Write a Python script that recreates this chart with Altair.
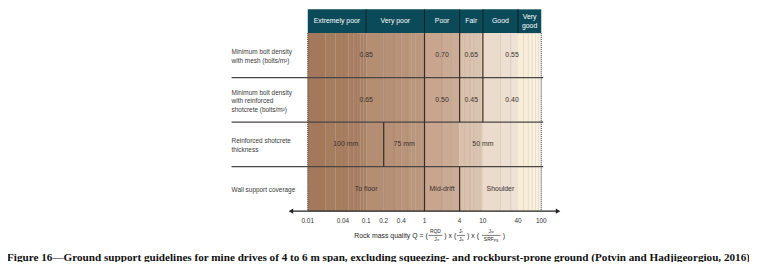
import altair as alt
import pandas as pd
import numpy as np

# ---------------- data ----------------
classes = ["Extremely poor", "Very poor", "Poor", "Fair", "Good", "Very\ngood"]
class_bounds = [0.01, 0.1, 1, 4, 10, 40, 100]

row_labels = [
    "Minimum bolt density\nwith mesh (bolts/m²)",
    "Minimum bolt density\nwith reinforced\nshotcrete (bolts/m²)",
    "Reinforced shotcrete\nthickness",
    "Wall support coverage",
]

mesh_bounds = [0.01, 1, 4, 10, 100]
mesh_values = ["0.85", "0.70", "0.65", "0.55"]
shot_bounds = [0.01, 1, 4, 10, 100]
shot_values = ["0.65", "0.50", "0.45", "0.40"]
thick_bounds = [0.01, 0.2, 1, 100]
thick_values = ["100 mm", "75 mm", "50 mm"]
wall_bounds = [0.01, 1, 4, 100]
wall_values = ["To floor", "Mid-drift", "Shoulder"]

tick_values = [0.01, 0.04, 0.1, 0.2, 0.4, 1, 4, 10, 40, 100]
tick_labels = ["0.01", "0.04", "0.1", "0.2", "0.4", "1", "4", "10", "40", "100"]

title_text = "Rock mass quality  Q = ("
caption = ("Figure 16\u2014Ground support guidelines for mine drives of 4 to 6 m span, "
           "excluding squeezing- and rockburst-prone ground (Potvin and Hadjigeorgiou, 2016)")

# log grid (minor ticks) for the shaded background
minor = sorted(set([round(k * 10.0 ** d, 6) for d in range(-2, 2) for k in range(1, 10)] + [100.0]))

ROW_PX = 45.0
OX = 4  # horizontal offset correction

# ---------------- tables ----------------
bg = pd.DataFrame({"q0": minor[:-1], "q1": minor[1:]})
bg["lq"] = np.log10(np.sqrt(bg.q0 * bg.q1))
bg["y0"] = 0
bg["y1"] = 4

stripe_df = pd.DataFrame({"q": [m for m in minor if m not in class_bounds]})
stripe_df["y0"] = 0
stripe_df["y1"] = 4

hdr = pd.DataFrame({"c0": class_bounds[:-1], "c1": class_bounds[1:], "name": classes})
hdr["mid"] = np.sqrt(hdr.c0 * hdr.c1)
hdr["y0"] = -0.5333
hdr["y1"] = 0
hdr["ym"] = [-0.2667 - (n.count("\n")) * 9 / 2 / ROW_PX for n in classes]

hsep = pd.DataFrame({"q": class_bounds[1:-1]})
hsep["y0"] = -0.5333
hsep["y1"] = 0

rows_b = [mesh_bounds, shot_bounds, thick_bounds, wall_bounds]
rows_v = [mesh_values, shot_values, thick_values, wall_values]
cells, divs = [], []
for r, (b, v) in enumerate(zip(rows_b, rows_v)):
    for i, lab in enumerate(v):
        cells.append({"row": r, "mid": float(np.sqrt(b[i] * b[i + 1])), "label": lab, "ym": r + 0.5})
    for x in b[1:-1]:
        divs.append({"q": x, "y0": r, "y1": r + 1})
cells = pd.DataFrame(cells)
divs = pd.DataFrame(divs)

rl = pd.DataFrame({"label": row_labels})
rl["ym"] = [i + 0.5 - s.count("\n") * 8.7 / 2 / ROW_PX + 0.03 for i, s in enumerate(row_labels)]
rlines = pd.DataFrame({"y": [1, 2, 3]})
edges = pd.DataFrame({"q": [0.01, 100], "y0": 0, "y1": 4})
ticks = pd.DataFrame({"q": tick_values, "label": tick_labels})

# ---------------- scales ----------------
X = alt.Scale(type="log", domain=[0.01, 100], range=[299 + OX, 535 + OX])
Y = alt.Scale(domain=[-0.5333, 5.1111], range=[0, 254])
C = alt.Scale(
    domain=[-2, -1.01, -0.99, -0.01, 0.01, 0.59, 0.61, 0.99, 1.01, 1.59, 1.61, 2],
    range=["#a37859", "#ab8165", "#b38c71", "#bc9980", "#c6a38b", "#ccad97",
           "#d8bfaa", "#dec8b6", "#e8d8cb", "#efe3d5", "#f8ecd4", "#fbf3e3"],
)
FONT = "Liberation Sans"

background = alt.Chart(bg).mark_rect().encode(
    x=alt.X("q0:Q", scale=X, axis=None), x2="q1:Q",
    y=alt.Y("y0:Q", scale=Y, axis=None), y2="y1:Q",
    color=alt.Color("lq:Q", scale=C, legend=None),
)
stripes = alt.Chart(stripe_df).mark_rule(color="#5a3a28", opacity=0.13, strokeWidth=1).encode(
    x=alt.X("q:Q", scale=X), y=alt.Y("y0:Q", scale=Y), y2="y1:Q"
)
header = alt.Chart(hdr).mark_rect(color="#0b4a58").encode(
    x=alt.X("c0:Q", scale=X), x2="c1:Q", y=alt.Y("y0:Q", scale=Y), y2="y1:Q"
)
header_sep = alt.Chart(hsep).mark_rule(color="#061e24", strokeWidth=1).encode(
    x=alt.X("q:Q", scale=X), y=alt.Y("y0:Q", scale=Y), y2="y1:Q"
)
header_txt = alt.Chart(hdr).mark_text(
    color="white", fontSize=7, font=FONT, baseline="middle", lineBreak="\n", lineHeight=9
).encode(x=alt.X("mid:Q", scale=X), y=alt.Y("ym:Q", scale=Y), text="name:N")

row_lines = alt.Chart(rlines).mark_rule(color="#4a4644", strokeWidth=1.4).encode(
    x=alt.value(222 + OX), x2=alt.value(537 + OX), y=alt.Y("y:Q", scale=Y)
)
cell_div = alt.Chart(divs).mark_rule(color="#3a2a20", strokeWidth=1.2).encode(
    x=alt.X("q:Q", scale=X), y=alt.Y("y0:Q", scale=Y), y2="y1:Q"
)
cell_txt = alt.Chart(cells).mark_text(
    color="#3a312c", fontSize=7, font=FONT, baseline="middle"
).encode(x=alt.X("mid:Q", scale=X), y=alt.Y("ym:Q", scale=Y), text="label:N")

edge_lines = alt.Chart(edges).mark_rule(color="#333333", strokeWidth=1, strokeDash=[1, 1]).encode(
    x=alt.X("q:Q", scale=X), y=alt.Y("y0:Q", scale=Y), y2="y1:Q"
)

axis_line = alt.Chart(rlines.head(1)).mark_rule(color="#222222", strokeWidth=1.2).encode(
    x=alt.value(282 + OX), x2=alt.value(551 + OX), y=alt.value(204)
)
arrow_l = alt.Chart(rlines.head(1)).mark_point(shape="triangle-left", filled=True, color="#222222", size=28, opacity=1).encode(
    x=alt.value(282 + OX), y=alt.value(204)
)
arrow_r = alt.Chart(rlines.head(1)).mark_point(shape="triangle-right", filled=True, color="#222222", size=28, opacity=1).encode(
    x=alt.value(552 + OX), y=alt.value(204)
)
tick_txt = alt.Chart(ticks).mark_text(color="#333333", fontSize=6.5, font=FONT, baseline="middle").encode(
    x=alt.X("q:Q", scale=X), y=alt.value(213.5), text="label:N"
)

def txt(s, x, y, size=6.5, align="left"):
    return alt.Chart(pd.DataFrame({"t": [s]})).mark_text(
        color="#1e1e1e", fontSize=size, font=FONT, baseline="middle", align=align
    ).encode(x=alt.value(x + OX), y=alt.value(y + 2), text="t:N")

def bar(x1, x2, y):
    return alt.Chart(pd.DataFrame({"t": [0]})).mark_rule(color="#222222", strokeWidth=0.6).encode(
        x=alt.value(x1 + OX), x2=alt.value(x2 + OX), y=alt.value(y + 2)
    )

title_parts = [
    txt(title_text, 346, 227, 7),
    txt("RQD", 428, 222.5, 5, "center"), bar(421, 435, 226.5), txt("J", 428, 230.5, 5, "center"),
    txt("n", 430, 231.5, 3.5, "left"),
    txt(") x (", 437, 227, 7),
    txt("J", 453, 222.5, 5, "center"), txt("r", 454.5, 223.5, 3.5, "left"), bar(450, 458, 226.5),
    txt("J", 453, 230.5, 5, "center"), txt("a", 454.5, 231.5, 3.5, "left"),
    txt(") x (", 460, 227, 7),
    txt("J", 483, 222.5, 5, "center"), txt("w", 484.5, 223.5, 3.5, "left"), bar(475, 494, 226.5),
    txt("SRF", 482, 230.5, 5, "center"), txt("PS", 487, 232, 3.5, "left"),
    txt(")", 496, 227, 7),
]

row_txt = alt.Chart(rl).mark_text(
    color="#3a3a3a", fontSize=6.5, font=FONT, baseline="middle", align="left", lineBreak="\n", lineHeight=8.7
).encode(x=alt.value(222 + OX), y=alt.Y("ym:Q", scale=Y), text="label:N")

cap = alt.Chart(pd.DataFrame({"t": [caption]})).mark_text(
    color="#111111", fontSize=11.3, font="Liberation Serif", fontWeight="bold", baseline="middle", align="center"
).encode(x=alt.value(370.5 + OX), y=alt.value(251), text="t:N")

chart = alt.layer(
    background, stripes, header, header_sep, header_txt, row_lines, cell_div, cell_txt,
    edge_lines, axis_line, arrow_l, arrow_r, tick_txt, *title_parts, row_txt, cap
).properties(
    width=749, height=254, padding=0, autosize=alt.AutoSizeParams(type="none"), background="white"
).configure_view(stroke=None)

chart.save("out.html", embed_options={"renderer": "svg", "actions": False})
